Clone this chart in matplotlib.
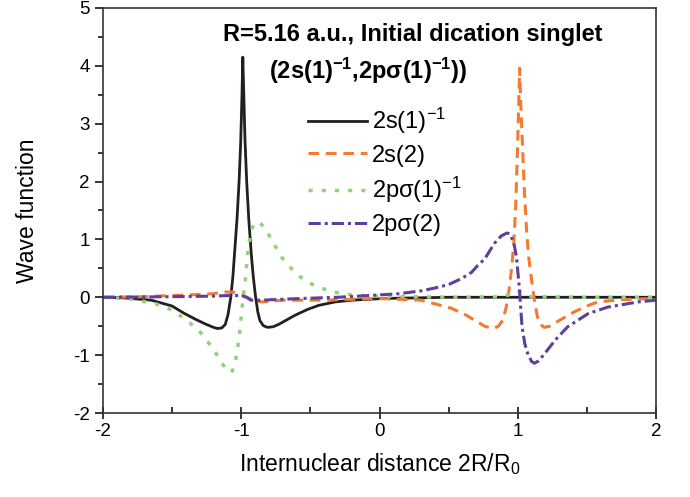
import numpy as np
import matplotlib
matplotlib.use("Agg")
import matplotlib.pyplot as plt
from matplotlib.ticker import MultipleLocator

plt.rcParams['font.family'] = ['Liberation Sans', 'DejaVu Sans']
plt.rcParams['mathtext.fontset'] = 'custom'
plt.rcParams['mathtext.rm'] = 'Liberation Sans'
plt.rcParams['mathtext.it'] = 'Liberation Sans:italic'
plt.rcParams['mathtext.bf'] = 'Liberation Sans:bold'
plt.rcParams['axes.unicode_minus'] = False

# 2s(1)^-1  (black, solid)
x_2s1 = [-2.0, -1.85, -1.65, -1.5, -1.41, -1.33, -1.26, -1.2, -1.17, -1.14, -1.115, -1.095,
         -1.075, -1.06, -1.048, -1.03, -1.015, -1.003, -0.994, -0.988, -0.981, -0.972, -0.96,
         -0.945, -0.926, -0.912, -0.898, -0.88, -0.865, -0.84, -0.81, -0.77, -0.73, -0.67,
         -0.61, -0.52, -0.44, -0.32, -0.2, 0.04, 0.5, 1.0, 1.5, 2.0]
y_2s1 = [0.0, -0.01, -0.05, -0.15, -0.28, -0.38, -0.46, -0.52, -0.54, -0.53, -0.47, -0.30,
         0.0, 0.35, 0.75, 1.35, 2.0, 2.7, 3.5, 4.15, 3.5, 2.7, 2.0,
         1.35, 0.72, 0.35, 0.05, -0.25, -0.40, -0.49, -0.52, -0.51, -0.47, -0.39,
         -0.31, -0.21, -0.14, -0.08, -0.05, -0.02, 0.0, 0.0, 0.0, 0.0]

# 2s(2)  (orange, dashed)
x_2s2 = [-2.0, -1.7, -1.5, -1.3, -1.21, -1.12, -1.06, -1.01, -0.96, -0.9, -0.85, -0.69,
         -0.4, -0.01, 0.3, 0.52, 0.62, 0.69, 0.76, 0.82, 0.86, 0.89, 0.915, 0.935, 0.955,
         0.97, 0.985, 0.998, 1.007, 1.013, 1.02, 1.034, 1.048, 1.063, 1.078, 1.1, 1.12,
         1.14, 1.16, 1.19, 1.23, 1.3, 1.41, 1.5, 1.58, 1.75, 2.0]
y_2s2 = [0.0, 0.01, 0.03, 0.05, 0.06, 0.09, 0.09, 0.06, 0.0, -0.06, -0.08, -0.05,
         -0.05, -0.02, -0.05, -0.19, -0.30, -0.40, -0.50, -0.54, -0.50, -0.40, -0.18, 0.10, 0.50,
         0.90, 1.6, 2.6, 3.4, 3.96, 3.4, 2.6, 1.8, 1.16, 0.70, 0.29, -0.05,
         -0.32, -0.46, -0.52, -0.50, -0.40, -0.25, -0.15, -0.08, -0.04, -0.02]

# 2p sigma(1)^-1  (green, dotted)
x_2p1 = [-2.0, -1.8, -1.62, -1.5, -1.41, -1.31, -1.25, -1.19, -1.13, -1.09, -1.07, -1.05,
         -1.03, -1.01, -0.99, -0.97, -0.95, -0.93, -0.9, -0.87, -0.83, -0.77, -0.71, -0.62,
         -0.54, -0.44, -0.33, -0.2, -0.13, 0.2, 0.6, 0.9, 0.96, 0.99, 1.03, 1.08, 1.5, 2.0]
y_2p1 = [0.0, -0.03, -0.11, -0.22, -0.37, -0.56, -0.74, -0.94, -1.17, -1.27, -1.30, -1.20,
         -0.95, -0.60, -0.10, 0.30, 0.84, 1.15, 1.29, 1.30, 1.20, 0.95, 0.70, 0.45,
         0.29, 0.17, 0.09, 0.04, 0.03, 0.01, 0.0, 0.01, 0.08, 0.12, 0.09, 0.01, 0.0, 0.0]

# 2p sigma(2)  (purple, dash-dot)
x_2p2 = [-2.0, -1.5, -1.2, -1.09, -1.0, -0.96, -0.93, -0.85, -0.56, -0.3, -0.08, 0.135,
         0.3, 0.4, 0.5, 0.59, 0.665, 0.71, 0.76, 0.83, 0.88, 0.92, 0.94, 0.97, 0.99, 1.01,
         1.03, 1.05, 1.075, 1.1, 1.12, 1.15, 1.195, 1.27, 1.36, 1.51, 1.65, 1.87, 2.0]
y_2p2 = [0.0, 0.01, 0.02, 0.03, 0.03, 0.0, -0.05, -0.05, -0.02, 0.0, 0.03, 0.06,
         0.11, 0.16, 0.22, 0.32, 0.43, 0.55, 0.66, 0.93, 1.06, 1.11, 1.10, 0.95, 0.70, 0.18,
         -0.50, -0.80, -1.00, -1.11, -1.14, -1.10, -0.97, -0.74, -0.51, -0.28, -0.17, -0.08, -0.05]

x_ticks = [-2, -1, 0, 1, 2]
y_ticks = [-2, -1, 0, 1, 2, 3, 4, 5]

fig = plt.figure(figsize=(6.9, 4.97), dpi=100)
ax = fig.add_axes([0.149, 0.169, 0.802, 0.815])

ax.plot(x_2s1, y_2s1, color='#231f20', lw=2.0, label='2s(1)$^{-1}$')
ax.plot(x_2s2, y_2s2, color='#f47a30', lw=2.2, dashes=(3.5, 2.2), label='2s(2)')
ax.plot(x_2p1, y_2p1, color='#92d07e', lw=2.5, dashes=(1.2, 2.6), label='2p\u03c3(1)$^{-1}$')
ax.plot(x_2p2, y_2p2, color='#5e3f9e', lw=2.2, dashes=(4.0, 1.3, 1.0, 1.3), label='2p\u03c3(2)')

ax.set_xlim(-2, 2)
ax.set_ylim(-2, 5)
ax.set_xticks(x_ticks)
ax.set_yticks(y_ticks)
ax.xaxis.set_minor_locator(MultipleLocator(0.5))
ax.yaxis.set_minor_locator(MultipleLocator(0.5))
ax.tick_params(axis='x', which='major', direction='inout', length=8, width=1.1, labelsize=13.5, pad=3)
ax.tick_params(axis='x', which='minor', direction='in', length=4, width=1.1)
ax.tick_params(axis='y', which='major', direction='out', length=6, width=1.1, labelsize=13.5)
ax.tick_params(axis='y', which='minor', direction='out', length=3.5, width=1.1)
for s in ax.spines.values():
    s.set_linewidth(1.2)
    s.set_color('#333333')

ax.set_xlabel('Internuclear distance 2R/R$_0$', fontsize=16.5, labelpad=8)
ax.set_ylabel('Wave function', fontsize=16.5, labelpad=24)

ax.text(0.56, 0.935, 'R=5.16 a.u., Initial dication singlet', transform=ax.transAxes,
        ha='center', va='center', fontsize=17, fontweight='bold')
ax.text(0.48, 0.845, '(2s(1)$^{\\mathbf{-1}}$,2p\u03c3(1)$^{\\mathbf{-1}}$))',
        transform=ax.transAxes, ha='center', va='center', fontsize=17, fontweight='bold')

ax.legend(loc='upper left', bbox_to_anchor=(0.371, 0.758), frameon=False, fontsize=17,
          handlelength=2.5, handletextpad=0.2, labelspacing=0.36, borderpad=0, borderaxespad=0)

fig.savefig('out.png', dpi=100)
